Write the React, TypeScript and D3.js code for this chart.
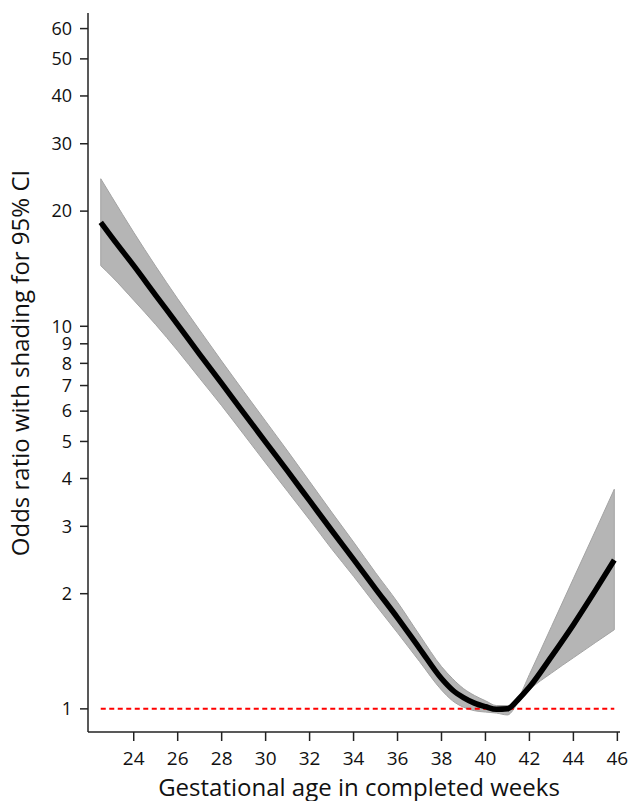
import React from "react";
import * as d3 from "d3";

// gestational week, odds ratio and 95% CI
const weeks = [22.5, 23, 24, 25, 26, 27, 28, 29, 30, 31, 32, 33, 34, 35, 36, 37, 38, 38.5, 39, 39.5, 40, 40.5, 41, 41.5, 42, 43, 44, 45, 45.86];
const oddsRatio = [18.7, 17.1, 14.4, 12.05, 10.1, 8.45, 7.09, 5.94, 4.98, 4.18, 3.5, 2.93, 2.46, 2.06, 1.73, 1.44, 1.2, 1.12, 1.07, 1.035, 1.013, 0.997, 1.0, 1.06, 1.14, 1.37, 1.66, 2.04, 2.45];
const lowerCI = [14.4, 13.5, 11.7, 10.1, 8.63, 7.31, 6.2, 5.22, 4.39, 3.7, 3.12, 2.62, 2.22, 1.87, 1.58, 1.33, 1.12, 1.05, 1.01, 0.989, 0.981, 0.975, 0.964, 1.04, 1.12, 1.24, 1.36, 1.49, 1.61];
const upperCI = [24.3, 21.8, 17.6, 14.35, 11.8, 9.77, 8.11, 6.76, 5.65, 4.72, 3.93, 3.27, 2.73, 2.27, 1.9, 1.56, 1.29, 1.2, 1.13, 1.084, 1.05, 1.02, 1.02, 1.07, 1.23, 1.64, 2.19, 2.92, 3.75];

const xTicks = [24, 26, 28, 30, 32, 34, 36, 38, 40, 42, 44, 46];
const yTicks = [1, 2, 3, 4, 5, 6, 7, 8, 9, 10, 20, 30, 40, 50, 60];

const W = 631;
const H = 801;
const font = "'Open Sans', 'Noto Sans', sans-serif";

export default function App() {
  const x = d3.scaleLinear().domain([21.92, 46.12]).range([88, 620]);
  const y = d3.scaleLog().domain([0.87, 65.9]).range([732, 13]);

  const rows = weeks.map((w, i) => ({ w, or: oddsRatio[i], lo: lowerCI[i], hi: upperCI[i] }));

  const band = d3
    .area<any>()
    .x((d) => x(d.w))
    .y0((d) => y(d.lo))
    .y1((d) => y(d.hi))
    .curve(d3.curveMonotoneX);

  const line = d3
    .line<any>()
    .x((d) => x(d.w))
    .y((d) => y(d.or))
    .curve(d3.curveMonotoneX);

  const x0 = x.range()[0];
  const y0 = y.range()[0];

  return (
    <svg width={W} height={H} style={{ position: "absolute", left: 0, top: 0, background: "#fff" }}>
      <path d={band(rows) || ""} fill="#b5b5b5" stroke="#a3a3a3" strokeWidth={1} />
      <line
        x1={x(weeks[0])}
        x2={x(weeks[weeks.length - 1])}
        y1={y(1)}
        y2={y(1)}
        stroke="#ff0000"
        strokeWidth={2}
        strokeDasharray="5,3.5"
      />
      <path d={line(rows) || ""} fill="none" stroke="#000" strokeWidth={5.5} strokeLinejoin="round" />

      {/* y axis */}
      <line x1={x0} x2={x0} y1={y.range()[1]} y2={y0} stroke="#222" strokeWidth={1.5} />
      {yTicks.map((t) => (
        <g key={t} transform={`translate(0,${y(t)})`}>
          <line x1={x0 - 8} x2={x0} stroke="#222" strokeWidth={1.5} />
          <text x={x0 - 16} dy="0.35em" textAnchor="end" fontFamily={font} fontSize={18} fill="#111">
            {t}
          </text>
        </g>
      ))}
      <text
        transform={`translate(29,363) rotate(-90)`}
        textAnchor="middle"
        fontFamily={font}
        fontSize={24}
        fill="#111"
      >
        Odds ratio with shading for 95% CI
      </text>

      {/* x axis */}
      <line x1={x0} x2={x.range()[1]} y1={y0} y2={y0} stroke="#222" strokeWidth={1.5} />
      {xTicks.map((t) => (
        <g key={t} transform={`translate(${x(t)},0)`}>
          <line y1={y0} y2={y0 + 9} stroke="#222" strokeWidth={1.5} />
          <text y={765} textAnchor="middle" fontFamily={font} fontSize={19} fill="#111">
            {t}
          </text>
        </g>
      ))}
      <text x={359} y={796} textAnchor="middle" fontFamily={font} fontSize={24} fill="#111">
        Gestational age in completed weeks
      </text>
    </svg>
  );
}
